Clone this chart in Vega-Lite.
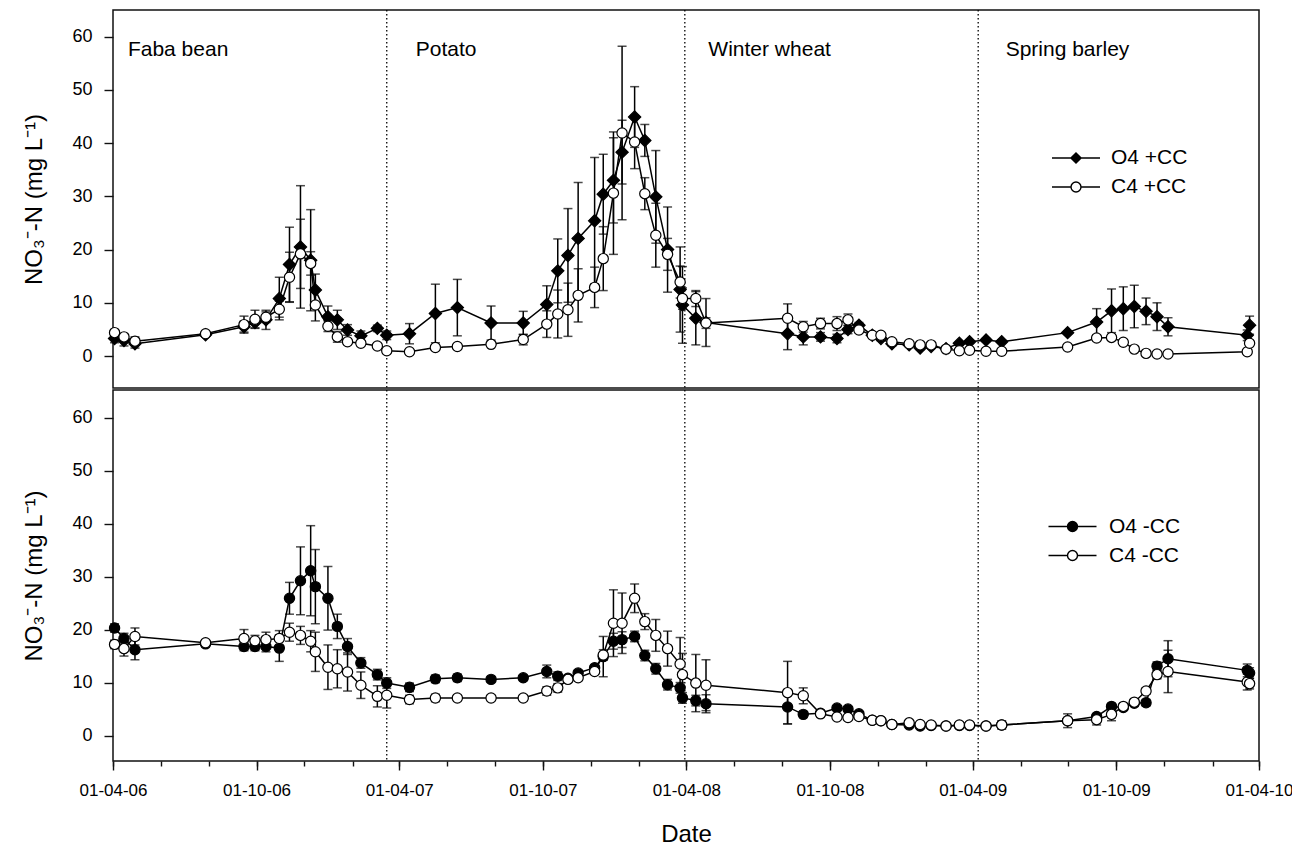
{
"$schema": "https://vega.github.io/schema/vega-lite/v6.json",
"padding": {"left": 21, "top": 8, "right": 0, "bottom": 0},
"spacing": -2,
"config": {
  "font": "Liberation Sans",
  "view": {"stroke": "#111", "strokeWidth": 1.5},
  "axis": {"grid": false, "domain": false, "tickColor": "#111", "tickWidth": 1.4, "labelFont": "Liberation Sans", "labelFontSize": 18, "labelColor": "#000", "titleFont": "Liberation Sans", "titleFontSize": 24, "titleFontWeight": "normal", "titleColor": "#000"},
  "legend": {"labelFont": "Liberation Sans", "labelFontSize": 21, "labelColor": "#000"}
},
"datasets": {
  "cuts": [{"d": "2007-03-16"}, {"d": "2008-03-30"}, {"d": "2009-04-08"}],
  "crops": [{"d": "2006-04-20", "t": "Faba bean"}, {"d": "2007-04-22", "t": "Potato"}, {"d": "2008-04-29", "t": "Winter wheat"}, {"d": "2009-05-13", "t": "Spring barley"}],
  "top": [
{"d":"2006-04-03","s":"O4 +CC","v":3.3,"e":0.8},{"d":"2006-04-03","s":"C4 +CC","v":4.4,"e":0.5},
{"d":"2006-04-15","s":"O4 +CC","v":2.9,"e":1.0},{"d":"2006-04-15","s":"C4 +CC","v":3.6,"e":0.5},
{"d":"2006-04-29","s":"O4 +CC","v":2.3,"e":0.8},{"d":"2006-04-29","s":"C4 +CC","v":2.8,"e":0.8},
{"d":"2006-07-28","s":"O4 +CC","v":4.0,"e":0.3},{"d":"2006-07-28","s":"C4 +CC","v":4.2,"e":0.3},
{"d":"2006-09-15","s":"O4 +CC","v":5.5,"e":1.0},{"d":"2006-09-15","s":"C4 +CC","v":5.9,"e":1.6},
{"d":"2006-09-29","s":"O4 +CC","v":6.3,"e":1.0},{"d":"2006-09-29","s":"C4 +CC","v":6.9,"e":1.7},
{"d":"2006-10-13","s":"O4 +CC","v":6.8,"e":1.8},{"d":"2006-10-13","s":"C4 +CC","v":7.3,"e":1.0},
{"d":"2006-10-30","s":"O4 +CC","v":10.8,"e":4.0},{"d":"2006-10-30","s":"C4 +CC","v":8.8,"e":1.5},
{"d":"2006-11-12","s":"O4 +CC","v":17.2,"e":7.0},{"d":"2006-11-12","s":"C4 +CC","v":14.8,"e":4.7},
{"d":"2006-11-26","s":"O4 +CC","v":20.5,"e":11.5},{"d":"2006-11-26","s":"C4 +CC","v":19.2,"e":6.5},
{"d":"2006-12-09","s":"O4 +CC","v":18.0,"e":9.5},{"d":"2006-12-09","s":"C4 +CC","v":17.4,"e":2.2},
{"d":"2006-12-15","s":"O4 +CC","v":12.4,"e":3.0},{"d":"2006-12-15","s":"C4 +CC","v":9.6,"e":3.0},
{"d":"2006-12-31","s":"O4 +CC","v":7.4,"e":2.0},{"d":"2006-12-31","s":"C4 +CC","v":5.6,"e":1.0},
{"d":"2007-01-12","s":"O4 +CC","v":6.8,"e":1.8},{"d":"2007-01-12","s":"C4 +CC","v":3.6,"e":1.0},
{"d":"2007-01-25","s":"O4 +CC","v":4.9,"e":1.0},{"d":"2007-01-25","s":"C4 +CC","v":2.7,"e":0.5},
{"d":"2007-02-11","s":"O4 +CC","v":3.8,"e":0.9},{"d":"2007-02-11","s":"C4 +CC","v":2.4,"e":0.5},
{"d":"2007-03-04","s":"O4 +CC","v":5.2,"e":0.6},{"d":"2007-03-04","s":"C4 +CC","v":1.9,"e":0.4},
{"d":"2007-03-16","s":"O4 +CC","v":3.9,"e":0.8},{"d":"2007-03-16","s":"C4 +CC","v":1.0,"e":0.5},
{"d":"2007-04-14","s":"O4 +CC","v":4.2,"e":1.9},{"d":"2007-04-14","s":"C4 +CC","v":0.8,"e":0.3},
{"d":"2007-05-17","s":"O4 +CC","v":8.0,"e":5.5},{"d":"2007-05-17","s":"C4 +CC","v":1.6,"e":0.5},
{"d":"2007-06-14","s":"O4 +CC","v":9.1,"e":5.3},{"d":"2007-06-14","s":"C4 +CC","v":1.8,"e":0.4},
{"d":"2007-07-27","s":"O4 +CC","v":6.2,"e":3.2},{"d":"2007-07-27","s":"C4 +CC","v":2.2,"e":0.4},
{"d":"2007-09-06","s":"O4 +CC","v":6.2,"e":2.2},{"d":"2007-09-06","s":"C4 +CC","v":3.1,"e":1.0},
{"d":"2007-10-06","s":"O4 +CC","v":9.7,"e":3.5},{"d":"2007-10-06","s":"C4 +CC","v":6.0,"e":2.5},
{"d":"2007-10-20","s":"O4 +CC","v":16.0,"e":6.0},{"d":"2007-10-20","s":"C4 +CC","v":7.9,"e":4.5},
{"d":"2007-11-02","s":"O4 +CC","v":18.9,"e":8.8},{"d":"2007-11-02","s":"C4 +CC","v":8.7,"e":5.0},
{"d":"2007-11-15","s":"O4 +CC","v":22.1,"e":10.5},{"d":"2007-11-15","s":"C4 +CC","v":11.4,"e":5.0},
{"d":"2007-12-06","s":"O4 +CC","v":25.4,"e":11.9},{"d":"2007-12-06","s":"C4 +CC","v":12.9,"e":3.8},
{"d":"2007-12-17","s":"O4 +CC","v":30.4,"e":7.5},{"d":"2007-12-17","s":"C4 +CC","v":18.3,"e":6.0},
{"d":"2007-12-30","s":"O4 +CC","v":33.0,"e":8.0},{"d":"2007-12-30","s":"C4 +CC","v":30.6,"e":11.5},
{"d":"2008-01-10","s":"O4 +CC","v":38.3,"e":6.0},{"d":"2008-01-10","s":"C4 +CC","v":41.9,"e":16.3},
{"d":"2008-01-26","s":"O4 +CC","v":44.9,"e":5.7},{"d":"2008-01-26","s":"C4 +CC","v":40.2,"e":5.0},
{"d":"2008-02-08","s":"O4 +CC","v":40.5,"e":3.0},{"d":"2008-02-08","s":"C4 +CC","v":30.5,"e":3.0},
{"d":"2008-02-22","s":"O4 +CC","v":29.9,"e":8.7},{"d":"2008-02-22","s":"C4 +CC","v":22.7,"e":6.0},
{"d":"2008-03-08","s":"O4 +CC","v":20.0,"e":8.0},{"d":"2008-03-08","s":"C4 +CC","v":19.1,"e":3.0},
{"d":"2008-03-24","s":"O4 +CC","v":12.5,"e":8.0},{"d":"2008-03-24","s":"C4 +CC","v":13.9,"e":3.0},
{"d":"2008-03-27","s":"O4 +CC","v":9.6,"e":7.2},{"d":"2008-03-27","s":"C4 +CC","v":10.8,"e":2.0},
{"d":"2008-04-13","s":"O4 +CC","v":7.1,"e":5.0},{"d":"2008-04-13","s":"C4 +CC","v":10.8,"e":1.5},
{"d":"2008-04-26","s":"O4 +CC","v":6.3,"e":4.5},{"d":"2008-04-26","s":"C4 +CC","v":6.2,"e":1.0},
{"d":"2008-08-08","s":"O4 +CC","v":4.2,"e":3.0},{"d":"2008-08-08","s":"C4 +CC","v":7.1,"e":2.7},
{"d":"2008-08-28","s":"O4 +CC","v":3.6,"e":1.5},{"d":"2008-08-28","s":"C4 +CC","v":5.5,"e":1.0},
{"d":"2008-09-19","s":"O4 +CC","v":3.6,"e":0.8},{"d":"2008-09-19","s":"C4 +CC","v":6.1,"e":1.0},
{"d":"2008-10-10","s":"O4 +CC","v":3.3,"e":0.8},{"d":"2008-10-10","s":"C4 +CC","v":6.1,"e":1.3},
{"d":"2008-10-24","s":"O4 +CC","v":5.0,"e":0.8},{"d":"2008-10-24","s":"C4 +CC","v":6.8,"e":1.1},
{"d":"2008-11-07","s":"O4 +CC","v":5.8,"e":0.5},{"d":"2008-11-07","s":"C4 +CC","v":4.9,"e":0.5},
{"d":"2008-11-24","s":"O4 +CC","v":3.9,"e":0.4},{"d":"2008-11-24","s":"C4 +CC","v":3.9,"e":0.4},
{"d":"2008-12-05","s":"O4 +CC","v":3.3,"e":0.4},{"d":"2008-12-05","s":"C4 +CC","v":3.9,"e":0.4},
{"d":"2008-12-19","s":"O4 +CC","v":2.3,"e":0.4},{"d":"2008-12-19","s":"C4 +CC","v":2.7,"e":0.4},
{"d":"2009-01-10","s":"O4 +CC","v":2.1,"e":0.3},{"d":"2009-01-10","s":"C4 +CC","v":2.3,"e":0.3},
{"d":"2009-01-24","s":"O4 +CC","v":1.5,"e":0.3},{"d":"2009-01-24","s":"C4 +CC","v":2.1,"e":0.3},
{"d":"2009-02-07","s":"O4 +CC","v":1.8,"e":0.3},{"d":"2009-02-07","s":"C4 +CC","v":2.1,"e":0.3},
{"d":"2009-02-26","s":"O4 +CC","v":1.4,"e":0.3},{"d":"2009-02-26","s":"C4 +CC","v":1.3,"e":0.3},
{"d":"2009-03-15","s":"O4 +CC","v":2.4,"e":0.3},{"d":"2009-03-15","s":"C4 +CC","v":1.0,"e":0.3},
{"d":"2009-03-28","s":"O4 +CC","v":2.7,"e":0.3},{"d":"2009-03-28","s":"C4 +CC","v":1.1,"e":0.3},
{"d":"2009-04-18","s":"O4 +CC","v":3.0,"e":0.3},{"d":"2009-04-18","s":"C4 +CC","v":0.9,"e":0.3},
{"d":"2009-05-08","s":"O4 +CC","v":2.7,"e":0.3},{"d":"2009-05-08","s":"C4 +CC","v":0.9,"e":0.3},
{"d":"2009-07-31","s":"O4 +CC","v":4.4,"e":0.3},{"d":"2009-07-31","s":"C4 +CC","v":1.7,"e":0.3},
{"d":"2009-09-06","s":"O4 +CC","v":6.4,"e":2.5},{"d":"2009-09-06","s":"C4 +CC","v":3.4,"e":0.5},
{"d":"2009-09-25","s":"O4 +CC","v":8.5,"e":4.1},{"d":"2009-09-25","s":"C4 +CC","v":3.5,"e":0.5},
{"d":"2009-10-10","s":"O4 +CC","v":8.9,"e":4.1},{"d":"2009-10-10","s":"C4 +CC","v":2.6,"e":0.4},
{"d":"2009-10-24","s":"O4 +CC","v":9.3,"e":4.0},{"d":"2009-10-24","s":"C4 +CC","v":1.3,"e":0.3},
{"d":"2009-11-08","s":"O4 +CC","v":8.4,"e":2.5},{"d":"2009-11-08","s":"C4 +CC","v":0.5,"e":0.3},
{"d":"2009-11-22","s":"O4 +CC","v":7.4,"e":2.6},{"d":"2009-11-22","s":"C4 +CC","v":0.4,"e":0.3},
{"d":"2009-12-06","s":"O4 +CC","v":5.5,"e":1.7},{"d":"2009-12-06","s":"C4 +CC","v":0.4,"e":0.3},
{"d":"2010-03-17","s":"O4 +CC","v":3.9,"e":1.0},{"d":"2010-03-17","s":"C4 +CC","v":0.8,"e":0.3},
{"d":"2010-03-20","s":"O4 +CC","v":5.8,"e":1.7},{"d":"2010-03-20","s":"C4 +CC","v":2.4,"e":0.5}
  ],
  "bottom": [
{"d":"2006-04-03","s":"O4 -CC","v":20.3,"e":0.8},{"d":"2006-04-03","s":"C4 -CC","v":17.2,"e":0.8},
{"d":"2006-04-15","s":"O4 -CC","v":18.3,"e":1.0},{"d":"2006-04-15","s":"C4 -CC","v":16.4,"e":1.4},
{"d":"2006-04-29","s":"O4 -CC","v":16.2,"e":1.9},{"d":"2006-04-29","s":"C4 -CC","v":18.7,"e":1.6},
{"d":"2006-07-28","s":"O4 -CC","v":17.3,"e":0.5},{"d":"2006-07-28","s":"C4 -CC","v":17.5,"e":0.5},
{"d":"2006-09-15","s":"O4 -CC","v":16.8,"e":0.8},{"d":"2006-09-15","s":"C4 -CC","v":18.3,"e":1.7},
{"d":"2006-09-29","s":"O4 -CC","v":16.8,"e":0.8},{"d":"2006-09-29","s":"C4 -CC","v":17.9,"e":1.0},
{"d":"2006-10-13","s":"O4 -CC","v":16.8,"e":1.0},{"d":"2006-10-13","s":"C4 -CC","v":18.1,"e":1.4},
{"d":"2006-10-30","s":"O4 -CC","v":16.5,"e":2.5},{"d":"2006-10-30","s":"C4 -CC","v":18.3,"e":1.5},
{"d":"2006-11-12","s":"O4 -CC","v":25.9,"e":3.0},{"d":"2006-11-12","s":"C4 -CC","v":19.5,"e":1.7},
{"d":"2006-11-26","s":"O4 -CC","v":29.2,"e":6.4},{"d":"2006-11-26","s":"C4 -CC","v":18.9,"e":1.7},
{"d":"2006-12-09","s":"O4 -CC","v":31.1,"e":8.5},{"d":"2006-12-09","s":"C4 -CC","v":17.8,"e":2.0},
{"d":"2006-12-15","s":"O4 -CC","v":28.1,"e":7.0},{"d":"2006-12-15","s":"C4 -CC","v":15.8,"e":3.7},
{"d":"2006-12-31","s":"O4 -CC","v":25.9,"e":6.0},{"d":"2006-12-31","s":"C4 -CC","v":12.9,"e":4.2},
{"d":"2007-01-12","s":"O4 -CC","v":20.6,"e":2.3},{"d":"2007-01-12","s":"C4 -CC","v":12.6,"e":3.6},
{"d":"2007-01-25","s":"O4 -CC","v":16.8,"e":1.5},{"d":"2007-01-25","s":"C4 -CC","v":12.0,"e":3.6},
{"d":"2007-02-11","s":"O4 -CC","v":13.7,"e":1.0},{"d":"2007-02-11","s":"C4 -CC","v":9.5,"e":2.5},
{"d":"2007-03-04","s":"O4 -CC","v":11.5,"e":1.0},{"d":"2007-03-04","s":"C4 -CC","v":7.4,"e":2.0},
{"d":"2007-03-16","s":"O4 -CC","v":9.9,"e":1.0},{"d":"2007-03-16","s":"C4 -CC","v":7.6,"e":2.4},
{"d":"2007-04-14","s":"O4 -CC","v":9.1,"e":0.8},{"d":"2007-04-14","s":"C4 -CC","v":6.8,"e":0.8},
{"d":"2007-05-17","s":"O4 -CC","v":10.7,"e":0.7},{"d":"2007-05-17","s":"C4 -CC","v":7.1,"e":0.7},
{"d":"2007-06-14","s":"O4 -CC","v":10.9,"e":0.7},{"d":"2007-06-14","s":"C4 -CC","v":7.1,"e":0.5},
{"d":"2007-07-27","s":"O4 -CC","v":10.6,"e":0.5},{"d":"2007-07-27","s":"C4 -CC","v":7.1,"e":0.5},
{"d":"2007-09-06","s":"O4 -CC","v":10.9,"e":0.5},{"d":"2007-09-06","s":"C4 -CC","v":7.1,"e":0.5},
{"d":"2007-10-06","s":"O4 -CC","v":12.1,"e":1.2},{"d":"2007-10-06","s":"C4 -CC","v":8.4,"e":0.8},
{"d":"2007-10-20","s":"O4 -CC","v":11.2,"e":0.8},{"d":"2007-10-20","s":"C4 -CC","v":9.0,"e":0.8},
{"d":"2007-11-02","s":"O4 -CC","v":10.8,"e":0.5},{"d":"2007-11-02","s":"C4 -CC","v":10.6,"e":0.5},
{"d":"2007-11-15","s":"O4 -CC","v":11.8,"e":0.5},{"d":"2007-11-15","s":"C4 -CC","v":10.9,"e":0.5},
{"d":"2007-12-06","s":"O4 -CC","v":12.8,"e":0.5},{"d":"2007-12-06","s":"C4 -CC","v":12.1,"e":0.5},
{"d":"2007-12-17","s":"O4 -CC","v":14.9,"e":3.8},{"d":"2007-12-17","s":"C4 -CC","v":15.2,"e":1.0},
{"d":"2007-12-30","s":"O4 -CC","v":17.8,"e":1.5},{"d":"2007-12-30","s":"C4 -CC","v":21.2,"e":6.3},
{"d":"2008-01-10","s":"O4 -CC","v":18.1,"e":1.5},{"d":"2008-01-10","s":"C4 -CC","v":21.2,"e":5.7},
{"d":"2008-01-26","s":"O4 -CC","v":18.7,"e":1.0},{"d":"2008-01-26","s":"C4 -CC","v":25.9,"e":2.7},
{"d":"2008-02-08","s":"O4 -CC","v":15.1,"e":1.0},{"d":"2008-02-08","s":"C4 -CC","v":21.5,"e":1.5},
{"d":"2008-02-22","s":"O4 -CC","v":12.6,"e":1.0},{"d":"2008-02-22","s":"C4 -CC","v":18.9,"e":3.0},
{"d":"2008-03-08","s":"O4 -CC","v":9.6,"e":1.0},{"d":"2008-03-08","s":"C4 -CC","v":16.4,"e":3.3},
{"d":"2008-03-24","s":"O4 -CC","v":9.0,"e":1.0},{"d":"2008-03-24","s":"C4 -CC","v":13.5,"e":5.0},
{"d":"2008-03-27","s":"O4 -CC","v":7.1,"e":1.0},{"d":"2008-03-27","s":"C4 -CC","v":11.5,"e":4.0},
{"d":"2008-04-13","s":"O4 -CC","v":6.6,"e":1.0},{"d":"2008-04-13","s":"C4 -CC","v":9.9,"e":5.4},
{"d":"2008-04-26","s":"O4 -CC","v":6.0,"e":1.7},{"d":"2008-04-26","s":"C4 -CC","v":9.5,"e":4.8},
{"d":"2008-08-08","s":"O4 -CC","v":5.4,"e":3.2},{"d":"2008-08-08","s":"C4 -CC","v":8.1,"e":5.9},
{"d":"2008-08-28","s":"O4 -CC","v":4.0,"e":0.5},{"d":"2008-08-28","s":"C4 -CC","v":7.5,"e":1.5},
{"d":"2008-09-19","s":"O4 -CC","v":4.2,"e":0.4},{"d":"2008-09-19","s":"C4 -CC","v":4.1,"e":0.4},
{"d":"2008-10-10","s":"O4 -CC","v":5.2,"e":0.4},{"d":"2008-10-10","s":"C4 -CC","v":3.5,"e":0.4},
{"d":"2008-10-24","s":"O4 -CC","v":5.0,"e":0.4},{"d":"2008-10-24","s":"C4 -CC","v":3.4,"e":0.4},
{"d":"2008-11-07","s":"O4 -CC","v":4.1,"e":0.4},{"d":"2008-11-07","s":"C4 -CC","v":3.6,"e":0.4},
{"d":"2008-11-24","s":"O4 -CC","v":2.9,"e":0.3},{"d":"2008-11-24","s":"C4 -CC","v":2.9,"e":0.4},
{"d":"2008-12-05","s":"O4 -CC","v":2.8,"e":0.3},{"d":"2008-12-05","s":"C4 -CC","v":2.8,"e":0.3},
{"d":"2008-12-19","s":"O4 -CC","v":2.1,"e":0.3},{"d":"2008-12-19","s":"C4 -CC","v":2.1,"e":0.3},
{"d":"2009-01-10","s":"O4 -CC","v":2.0,"e":0.3},{"d":"2009-01-10","s":"C4 -CC","v":2.4,"e":0.3},
{"d":"2009-01-24","s":"O4 -CC","v":1.8,"e":0.3},{"d":"2009-01-24","s":"C4 -CC","v":2.1,"e":0.3},
{"d":"2009-02-07","s":"O4 -CC","v":1.9,"e":0.3},{"d":"2009-02-07","s":"C4 -CC","v":2.0,"e":0.3},
{"d":"2009-02-26","s":"O4 -CC","v":1.8,"e":0.3},{"d":"2009-02-26","s":"C4 -CC","v":1.8,"e":0.3},
{"d":"2009-03-15","s":"O4 -CC","v":1.9,"e":0.3},{"d":"2009-03-15","s":"C4 -CC","v":2.0,"e":0.3},
{"d":"2009-03-28","s":"O4 -CC","v":1.9,"e":0.3},{"d":"2009-03-28","s":"C4 -CC","v":2.0,"e":0.3},
{"d":"2009-04-18","s":"O4 -CC","v":1.8,"e":0.3},{"d":"2009-04-18","s":"C4 -CC","v":1.8,"e":0.3},
{"d":"2009-05-08","s":"O4 -CC","v":2.0,"e":0.3},{"d":"2009-05-08","s":"C4 -CC","v":2.0,"e":0.8},
{"d":"2009-07-31","s":"O4 -CC","v":2.8,"e":0.4},{"d":"2009-07-31","s":"C4 -CC","v":2.8,"e":1.3},
{"d":"2009-09-06","s":"O4 -CC","v":3.6,"e":0.4},{"d":"2009-09-06","s":"C4 -CC","v":3.0,"e":1.0},
{"d":"2009-09-25","s":"O4 -CC","v":5.5,"e":0.5},{"d":"2009-09-25","s":"C4 -CC","v":4.0,"e":1.2},
{"d":"2009-10-10","s":"O4 -CC","v":5.3,"e":0.5},{"d":"2009-10-10","s":"C4 -CC","v":5.5,"e":0.5},
{"d":"2009-10-24","s":"O4 -CC","v":6.1,"e":0.5},{"d":"2009-10-24","s":"C4 -CC","v":6.3,"e":0.5},
{"d":"2009-11-08","s":"O4 -CC","v":6.2,"e":0.6},{"d":"2009-11-08","s":"C4 -CC","v":8.4,"e":0.6},
{"d":"2009-11-22","s":"O4 -CC","v":13.1,"e":0.8},{"d":"2009-11-22","s":"C4 -CC","v":11.5,"e":0.8},
{"d":"2009-12-06","s":"O4 -CC","v":14.5,"e":3.4},{"d":"2009-12-06","s":"C4 -CC","v":12.1,"e":4.0},
{"d":"2010-03-17","s":"O4 -CC","v":12.3,"e":1.2},{"d":"2010-03-17","s":"C4 -CC","v":10.1,"e":1.5},
{"d":"2010-03-20","s":"O4 -CC","v":11.8,"e":1.0},{"d":"2010-03-20","s":"C4 -CC","v":9.8,"e":1.0}
  ]
},
"vconcat": [
 {
  "width": 1146, "height": 378,
  "layer": [
   {"data": {"name": "cuts"},
    "mark": {"type": "rule", "strokeDash": [1.5, 2.5], "strokeWidth": 1.3, "color": "#000"},
    "encoding": {"x": {"field": "d", "type": "temporal", "scale": {"type": "utc", "domain": [{"year": 2006, "month": 4, "date": 1, "utc": true}, {"year": 2010, "month": 4, "date": 1, "utc": true}]}, "axis": null}}},
   {"data": {"name": "top"},
    "encoding": {
      "x": {"field": "d", "type": "temporal", "scale": {"type": "utc", "domain": [{"year": 2006, "month": 4, "date": 1, "utc": true}, {"year": 2010, "month": 4, "date": 1, "utc": true}]}, "axis": null},
      "y": {"field": "v", "type": "quantitative", "title": "NO₃⁻-N (mg L⁻¹)", "scale": {"domain": [-6, 65], "nice": false, "zero": false},
            "axis": {"values": [0, 10, 20, 30, 40, 50, 60], "tickSize": 9, "labelPadding": 12, "titleX": -79, "titleY": 189, "titleAngle": -90, "titleBaseline": "middle", "titleAlign": "center"}}
    },
    "layer": [
     {"mark": {"type": "line", "color": "#000", "strokeWidth": 1.5}, "encoding": {"detail": {"field": "s"}}},
     {"mark": {"type": "errorbar", "color": "#000", "ticks": {"size": 9, "thickness": 1.5}, "rule": {"strokeWidth": 1.5}}, "encoding": {"yError": {"field": "e"}}},
     {"transform": [{"filter": "datum.s === 'O4 +CC'"}],
      "mark": {"type": "point", "shape": "diamond", "size": 150, "filled": true, "opacity": 1, "stroke": "#000", "strokeWidth": 1.2},
      "encoding": {"fill": {"field": "s", "type": "nominal", "scale": {"domain": ["O4 +CC", "C4 +CC"], "range": ["#000", "#fff"]},
        "legend": {"orient": "none", "legendX": 952.5, "legendY": 137.5, "title": null, "padding": 0, "symbolSize": 144, "labelOffset": 24.5, "rowPadding": 7,
          "encoding": {"symbols": {"shape": {"value": {"expr": "datum.value === 'O4 +CC' ? 'M-4,0H4M0,-0.85L0.85,0L0,0.85L-0.85,0Z' : 'M-4,0H-0.83M0.83,0H4M0.83,0A0.83,0.83,0,1,1,-0.83,0A0.83,0.83,0,1,1,0.83,0Z'"}}, "stroke": {"value": "#000"}, "strokeWidth": {"value": 1.4}, "opacity": {"value": 1}}}}}}},
     {"transform": [{"filter": "datum.s === 'C4 +CC'"}],
      "mark": {"type": "point", "shape": "circle", "size": 105, "filled": true, "opacity": 1, "stroke": "#000", "strokeWidth": 1.2},
      "encoding": {"fill": {"field": "s", "type": "nominal", "scale": {"domain": ["O4 +CC", "C4 +CC"], "range": ["#000", "#fff"]}}}}
    ]},
   {"data": {"name": "crops"},
    "mark": {"type": "text", "align": "left", "baseline": "middle", "fontSize": 21, "color": "#000"},
    "encoding": {
      "x": {"field": "d", "type": "temporal", "scale": {"type": "utc", "domain": [{"year": 2006, "month": 4, "date": 1, "utc": true}, {"year": 2010, "month": 4, "date": 1, "utc": true}]}, "axis": null},
      "y": {"datum": 57.5},
      "text": {"field": "t"}}}
  ]
 },
 {
  "width": 1146, "height": 371,
  "resolve": {"axis": {"x": "independent"}},
  "layer": [
   {"data": {"name": "cuts"},
    "mark": {"type": "rule", "strokeDash": [1.5, 2.5], "strokeWidth": 1.3, "color": "#000"},
    "encoding": {"x": {"field": "d", "type": "temporal", "scale": {"type": "utc", "domain": [{"year": 2006, "month": 4, "date": 1, "utc": true}, {"year": 2010, "month": 4, "date": 1, "utc": true}]},
      "axis": {"orient": "bottom", "title": null, "labels": false, "tickSize": 5, "values": [
        {"year": 2006, "month": 4, "date": 1, "utc": true}, {"year": 2006, "month": 6, "date": 1, "utc": true}, {"year": 2006, "month": 8, "date": 1, "utc": true}, {"year": 2006, "month": 10, "date": 1, "utc": true}, {"year": 2006, "month": 12, "date": 1, "utc": true},
        {"year": 2007, "month": 2, "date": 1, "utc": true}, {"year": 2007, "month": 4, "date": 1, "utc": true}, {"year": 2007, "month": 6, "date": 1, "utc": true}, {"year": 2007, "month": 8, "date": 1, "utc": true}, {"year": 2007, "month": 10, "date": 1, "utc": true}, {"year": 2007, "month": 12, "date": 1, "utc": true},
        {"year": 2008, "month": 2, "date": 1, "utc": true}, {"year": 2008, "month": 4, "date": 1, "utc": true}, {"year": 2008, "month": 6, "date": 1, "utc": true}, {"year": 2008, "month": 8, "date": 1, "utc": true}, {"year": 2008, "month": 10, "date": 1, "utc": true}, {"year": 2008, "month": 12, "date": 1, "utc": true},
        {"year": 2009, "month": 2, "date": 1, "utc": true}, {"year": 2009, "month": 4, "date": 1, "utc": true}, {"year": 2009, "month": 6, "date": 1, "utc": true}, {"year": 2009, "month": 8, "date": 1, "utc": true}, {"year": 2009, "month": 10, "date": 1, "utc": true}, {"year": 2009, "month": 12, "date": 1, "utc": true},
        {"year": 2010, "month": 2, "date": 1, "utc": true}, {"year": 2010, "month": 4, "date": 1, "utc": true}]}}}},
   {"data": {"name": "bottom"},
    "encoding": {
      "x": {"field": "d", "type": "temporal", "title": "Date", "scale": {"type": "utc", "domain": [{"year": 2006, "month": 4, "date": 1, "utc": true}, {"year": 2010, "month": 4, "date": 1, "utc": true}]},
        "axis": {"orient": "bottom", "tickSize": 9, "labelFontSize": 17, "labelPadding": 12, "titlePadding": 24, "labelOverlap": false, "labelFlush": false, "labelExpr": "utcFormat(datum.value, '%d-%m-%y')", "values": [
          {"year": 2006, "month": 4, "date": 1, "utc": true}, {"year": 2006, "month": 10, "date": 1, "utc": true}, {"year": 2007, "month": 4, "date": 1, "utc": true}, {"year": 2007, "month": 10, "date": 1, "utc": true},
          {"year": 2008, "month": 4, "date": 1, "utc": true}, {"year": 2008, "month": 10, "date": 1, "utc": true}, {"year": 2009, "month": 4, "date": 1, "utc": true}, {"year": 2009, "month": 10, "date": 1, "utc": true}, {"year": 2010, "month": 4, "date": 1, "utc": true}]}},
      "y": {"field": "v", "type": "quantitative", "title": "NO₃⁻-N (mg L⁻¹)", "scale": {"domain": [-4.8, 65.2], "nice": false, "zero": false},
            "axis": {"values": [0, 10, 20, 30, 40, 50, 60], "tickSize": 9, "labelPadding": 12, "titleX": -79, "titleY": 185.5, "titleAngle": -90, "titleBaseline": "middle", "titleAlign": "center"}}
    },
    "layer": [
     {"mark": {"type": "line", "color": "#000", "strokeWidth": 1.5}, "encoding": {"detail": {"field": "s"}}},
     {"mark": {"type": "errorbar", "color": "#000", "ticks": {"size": 9, "thickness": 1.5}, "rule": {"strokeWidth": 1.5}}, "encoding": {"yError": {"field": "e"}}},
     {"mark": {"type": "point", "shape": "circle", "size": 105, "filled": true, "opacity": 1, "stroke": "#000", "strokeWidth": 1.2},
      "encoding": {"fill": {"field": "s", "type": "nominal", "scale": {"domain": ["O4 -CC", "C4 -CC"], "range": ["#000", "#fff"]},
        "legend": {"orient": "none", "legendX": 949, "legendY": 126, "title": null, "padding": 0, "symbolSize": 144, "labelOffset": 26, "rowPadding": 7,
          "encoding": {"symbols": {"shape": {"value": "M-4,0H-0.83M0.83,0H4M0.83,0A0.83,0.83,0,1,1,-0.83,0A0.83,0.83,0,1,1,0.83,0Z"}, "stroke": {"value": "#000"}, "strokeWidth": {"value": 1.4}, "opacity": {"value": 1}}}}}}}
    ]}
  ]
 }
],
"resolve": {"scale": {"fill": "independent", "y": "independent"}, "legend": {"fill": "independent"}}
}
